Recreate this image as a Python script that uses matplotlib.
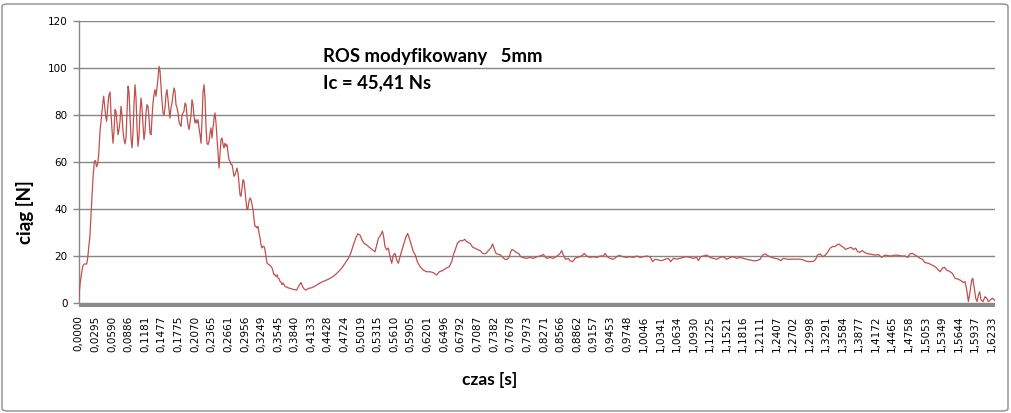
import matplotlib
matplotlib.use("Agg")
import matplotlib.pyplot as plt
from matplotlib.patches import FancyBboxPatch, Rectangle

# ---- data (time [s], thrust [N]) ----
t_a = [0.0000,0.0023,0.0047,0.0071,0.0100,0.0142,0.0159,0.0177,0.0201,0.0219,0.0236,0.0254,0.0278,0.0296,0.0319,0.0337,0.0355,0.0379,0.0402,0.0426,
       0.0444,0.0462,0.0480,0.0497,0.0515,0.0533,0.0557,0.0574,0.0592,0.0610,0.0628,0.0645,0.0663,0.0681,0.0699,0.0717,0.0734,0.0752,0.0770,0.0788,
       0.0806,0.0823,0.0841,0.0859,0.0877,0.0894,0.0912,0.0930,0.0948,0.0966,0.0983,0.1001,0.1019,0.1037,0.1054,0.1072,0.1090,0.1108,0.1126,0.1143,
       0.1161,0.1179,0.1197,0.1214,0.1232,0.1250,0.1268,0.1286,0.1303,0.1321,0.1339,0.1357,0.1374,0.1392,0.1410,0.1428,0.1446,0.1463,0.1481,0.1499,
       0.1517,0.1535,0.1552,0.1570,0.1588,0.1606,0.1623,0.1641,0.1659,0.1677,0.1695,0.1712,0.1730,0.1748,0.1766,0.1783,0.1801,0.1819,0.1837,0.1855]
f_a = [1.4,7.8,12,15.6,16.6,16.6,19,23.4,29,37.6,44.7,53,60.3,60.6,58,59,63,73,78.7,84.4,
       88,83.7,79.4,77.3,83,88,89.8,80.9,73.8,68,73,82.3,81.6,76.6,71.6,73.8,77.3,83.7,80,73,
       69.5,67.7,70.2,81.6,92.2,90,80,70.2,66,73,84.4,92.9,87.2,74.5,66.7,70.9,80.9,87.2,83,75.9,
       69.5,73,80.9,84.4,83.7,78.7,72.3,71.6,78.7,85.1,88.7,90.8,88,91.5,95.7,100.7,98.6,92.2,85.8,80.9,
       80,83,88.7,90.8,86.5,82.3,78.7,83,85.1,88.7,91.5,90,84.4,83,80.9,77.3,75.9,75.2,80,80.9]

t_b = [0.1872,0.1890,0.1908,0.1926,0.1943,0.1961,0.1979,0.1997,0.2014,0.2032,0.2050,0.2068,0.2086,0.2103,0.2121,0.2139,0.2157,0.2175,0.2192,0.2210,
       0.2228,0.2246,0.2263,0.2281,0.2299,0.2317,0.2335,0.2352,0.2370,0.2388,0.2406,0.2423,0.2441,0.2459,0.2477,0.2495,0.2512,0.2530,0.2548,0.2566,
       0.2583,0.2601,0.2619,0.2637,0.2655,0.2672,0.2690,0.2708,0.2726,0.2743,0.2761,0.2779,0.2797,0.2815,0.2832,0.2850,0.2868,0.2886,0.2904,0.2921,
       0.2939,0.2957,0.2975,0.2992,0.3010,0.3028,0.3046,0.3064,0.3081,0.3099,0.3117,0.3135,0.3152,0.3170,0.3188,0.3206,0.3224,0.3241,0.3259,0.3277,
       0.3295,0.3312,0.3330,0.3348,0.3366,0.3384,0.3401,0.3419,0.3437,0.3455,0.3472,0.3490,0.3508,0.3526,0.3544,0.3561,0.3579,0.3597,0.3615,0.3632,
       0.3650,0.3668,0.3686,0.3704,0.3721,0.3739]
f_b = [81.6,85.1,84.4,79.4,75.9,73.8,76.6,80,86.5,84.4,79.4,76.6,78,76.6,78,74.5,71.6,68,77.3,89.4,
       92.9,87.2,75.2,68,67.4,68.8,72.3,74.5,70.2,74.5,78.7,80.9,76.6,70.2,64.5,57.4,63,69.5,70.2,67.4,
       66,68,66.7,67.4,63.8,61,60.3,58.9,58.9,56.7,53.9,54.6,56,57.4,55.3,51,46,45.4,48.9,52.5,
       51.8,47.5,43.3,39.7,40.4,43.3,44.7,44,41.8,39.7,35.5,32.6,32.6,31.9,32.6,29.8,27.7,24.8,23.4,24.1,
       24.1,22.7,19.9,17,16.6,16.3,16,15.6,14.9,13.5,12,12,11.3,12,10.6,10.4,9.2,8.9,7.8,8.5,
       7.8,7.1,6.8,6.8,6.4,6.4]

t_c = [0.3757,0.3816,0.3875,0.3923,0.3952,0.3982,0.4006,0.4041,0.4083,0.4142,0.4201,0.4261,0.4320,0.4379,0.4439,0.4498,0.4557,0.4616,0.4676,0.4735,
       0.4794,0.4836,0.4883,0.4925,0.4960,0.5002,0.5037,0.5073,0.5120,0.5167,0.5215,0.5268,0.5298,0.5328,0.5369,0.5399,0.5422,0.5446,0.5476,0.5505,
       0.5535,0.5565,0.5594,0.5624,0.5654,0.5683,0.5713,0.5748,0.5784,0.5819,0.5849,0.5879,0.5914,0.5950,0.5985,0.6021,0.6068,0.6128,0.6187,0.6246,
       0.6305,0.6365,0.6412,0.6471,0.6531,0.6590,0.6632,0.6661,0.6697,0.6732,0.6780,0.6827,0.6863,0.6898]
f_c = [6.2,5.8,5.5,7.7,8.7,7,6,5.5,6.2,6.5,7.2,8.1,8.9,9.5,10.1,10.9,11.9,13.3,14.8,16.9,
       19,21.1,24.7,27.5,29.4,28.9,26.8,25.4,24.7,23.7,22.8,21.8,24.7,27.5,28.9,30.6,28.2,24,22.6,23.4,
       19.7,16.9,20.4,21.1,18.3,16.9,19.7,22.6,25.4,28.2,29.6,27.5,24.7,21.8,20.4,17.6,15.5,14,13.3,13.3,
       12.9,11.9,13.3,13.8,14.8,15.5,17.6,20.4,22.8,25.4,26.5,26.5,27.1,26.1]

t_d = [0.6957,0.7005,0.7046,0.7088,0.7135,0.7171,0.7206,0.7242,0.7283,0.7325,0.7360,0.7384,0.7420,0.7461,0.7503,0.7538,0.7580,0.7621,0.7657,0.7680,
       0.7704,0.7740,0.7787,0.7823,0.7858,0.7906,0.7965,0.8024,0.8083,0.8143,0.8202,0.8261,0.8321,0.8380,0.8439,0.8487,0.8528,0.8558,0.8587,0.8617,
       0.8658,0.8706,0.8735,0.8783,0.8824,0.8866,0.8913,0.8961,0.8990,0.9032,0.9091,0.9150,0.9210,0.9269,0.9328,0.9358,0.9399,0.9447,0.9506,0.9565,
       0.9613,0.9672,0.9743,0.9802,0.9862,0.9921,0.9980,1.0039,1.0099]
f_d = [25.4,23.7,23.3,22.8,22.3,21.4,20.9,21.1,22.3,23.3,25.1,23.3,21.1,20.7,20.4,19.4,18.6,18.6,19.7,21.8,
       22.8,22.3,21.4,21.1,19.7,19.3,19,19.4,19,19.7,20,20.6,19,19.4,19,19.7,20.4,21.1,22.3,20.4,
       18.6,19,18,17.6,19,19.4,19.7,20.4,21.1,20,19.4,19.7,19.4,20,20,21.1,19.7,19,18.6,19.7,
       20.3,19.7,19.4,19.7,19.4,20,19.4,19.7,20]

t_e = [1.0158,1.0205,1.0247,1.0306,1.0365,1.0424,1.0484,1.0525,1.0573,1.0632,1.0691,1.0750,1.0810,1.0869,1.0928,1.0988,1.1017,1.1059,1.1106,1.1165,
       1.1225,1.1284,1.1343,1.1402,1.1462,1.1521,1.1580,1.1640,1.1699,1.1758,1.1817,1.1877,1.1936,1.1995,1.2054,1.2114,1.2161,1.2203,1.2262,1.2321,
       1.2380,1.2440,1.2481,1.2528,1.2588,1.2647,1.2706,1.2766,1.2825,1.2884,1.2943,1.3003,1.3062,1.3104,1.3133,1.3181,1.3228,1.3270,1.3311]
f_e = [19.7,17.6,18.6,18.3,18,18.6,19,17.6,19,18.7,19,19.4,19.7,19.4,19,19.4,18,19.7,20,20.4,
       19.4,19,18.6,19.4,19.7,18.6,19.4,19.7,19,19.4,19,18.6,18.3,18,18,18.6,20.4,20.9,20,19.4,
       19,18.7,18,19,18.7,18.6,18.7,18.6,18.7,18.3,17.7,17.6,17.7,18.6,20.4,20.9,19.7,20.3,21.4]

t_f = [1.3358,1.3400,1.3447,1.3483,1.3518,1.3554,1.3595,1.3637,1.3684,1.3732,1.3773,1.3815,1.3850,1.3892,1.3933,1.3980,1.4040,1.4099,1.4158,1.4218,
       1.4277,1.4336,1.4395,1.4455,1.4514,1.4573,1.4632,1.4692,1.4739,1.4781,1.4822,1.4870,1.4917,1.4958,1.5000,1.5047,1.5107,1.5166,1.5225,1.5284,
       1.5314,1.5356,1.5391,1.5433,1.5492,1.5533,1.5581,1.5640,1.5688,1.5729,1.5759,1.5789,1.5818,1.5848,1.5877,1.5895,1.5919,1.5948,1.5972,1.5996,
       1.6019,1.6043,1.6079,1.6114,1.6144,1.6173,1.6209,1.6245,1.6280,1.6304]
f_f = [23.3,24,24,24.7,25.1,24.3,23.7,22.8,23.3,23.7,22.8,23.3,21.8,21.6,22.3,21.4,20.9,20.7,20.4,20.6,
       19.4,20.4,20.1,20,20.4,20.3,20,20,19.4,20.9,21.1,20.4,19.7,19,18.6,17.2,16.9,16.2,15.5,14,
       13.3,14.8,15.2,14,13.3,12.6,10.5,10.1,9.5,8.7,9.1,5.5,0.6,4.8,9.8,10.5,7,2,0.6,3.4,
       4.8,1.3,0.6,2.7,2,0.6,1.3,2,1.3,0.6]

x_tick_labels = ["0,0000","0,0295","0,0590","0,0886","0,1181","0,1477","0,1775","0,2070","0,2365","0,2661",
                 "0,2956","0,3249","0,3545","0,3840","0,4133","0,4428","0,4724","0,5019","0,5315","0,5610",
                 "0,5905","0,6201","0,6496","0,6792","0,7087","0,7382","0,7678","0,7973","0,8271","0,8566",
                 "0,8862","0,9157","0,9453","0,9748","1,0046","1,0341","1,0634","1,0930","1,1225","1,1521",
                 "1,1816","1,2111","1,2407","1,2702","1,2998","1,3291","1,3584","1,3877","1,4172","1,4465",
                 "1,4758","1,5053","1,5349","1,5644","1,5937","1,6233"]
y_ticks = [0, 20, 40, 60, 80, 100, 120]

title_line1 = "ROS modyfikowany   5mm"
title_line2 = "Ic = 45,41 Ns"
x_label = "czas [s]"
y_label = "ciąg [N]"

segments = [(t_a, f_a), (t_b, f_b), (t_c, f_c), (t_d, f_d), (t_e, f_e), (t_f, f_f)]
time_s, force_N = [], []
for i, (ts, fs) in enumerate(segments):
    assert len(ts) == len(fs), f"segment {i}: {len(ts)} vs {len(fs)}"
    time_s += ts
    force_N += fs

# ---- figure ----
W, H = 1012, 413
fig = plt.figure(figsize=(W / 100, H / 100), dpi=100)
fig.patch.set_facecolor("white")

# rounded outer border of the chart area
border = FancyBboxPatch((2 / W, 2 / H), (W - 6) / W, (H - 6) / H,
                        boxstyle="round,pad=0,rounding_size=0.006",
                        transform=fig.transFigure, facecolor="none",
                        edgecolor="#8c8c8c", linewidth=1.0)
fig.patches.append(border)

left, right, top, bottom = 78.7, 995.5, 21.0, 303.0
ax = fig.add_axes([left / W, 1 - bottom / H, (right - left) / W, (bottom - top) / H])

grid_col = "#868686"
ax.plot(time_s, force_N, color="#C0504D", linewidth=0.9, zorder=3, solid_joinstyle="round")

ax.set_xlim(0, 1.6300)
ax.set_ylim(0, 120)
ax.set_yticks(y_ticks)
ax.set_yticklabels([str(v) for v in y_ticks])
ax.yaxis.grid(True, color=grid_col, linewidth=1.0, zorder=1)
ax.set_axisbelow(True)

ax.set_xticks([float(s.replace(",", ".")) for s in x_tick_labels])
ax.set_xticklabels(x_tick_labels)

for side in ("top", "right", "bottom"):
    ax.spines[side].set_visible(False)
ax.spines["left"].set_color(grid_col)
ax.spines["left"].set_linewidth(1.0)

ax.tick_params(axis="y", length=4, width=1.0, color=grid_col, pad=4, labelsize=7.5,
               labelcolor="#000000")
ax.tick_params(axis="x", length=0, pad=9, labelsize=7.5, labelcolor="#000000",
               labelrotation=90)
for lab in ax.get_xticklabels():
    lab.set_fontfamily("DejaVu Sans")
    lab.set_verticalalignment("top")
    lab.set_horizontalalignment("center")
for lab in ax.get_yticklabels():
    lab.set_fontfamily("DejaVu Sans")

# thick grey category-axis bar just below the plot area
bar = Rectangle((left / W, 1 - 307.0 / H), (right - left) / W, 4.0 / H,
                transform=fig.transFigure, facecolor="#8a8a8a", edgecolor="none", zorder=2)
fig.patches.append(bar)

bold = dict(family=["Lato", "DejaVu Sans"], weight="bold", color="#000000")
fig.text(323 / W, 1 - 62 / H, title_line1, fontsize=13.3, ha="left", va="baseline", **bold)
fig.text(323 / W, 1 - 88 / H, title_line2, fontsize=13.3, ha="left", va="baseline", **bold)
fig.text(490 / W, 1 - 380 / H, x_label, fontsize=12.5, ha="center", va="center", **bold)
fig.text(25 / W, 1 - 212 / H, y_label, fontsize=13.5, ha="center", va="center", rotation=90, **bold)

fig.savefig("out.png", dpi=100, facecolor="white")
